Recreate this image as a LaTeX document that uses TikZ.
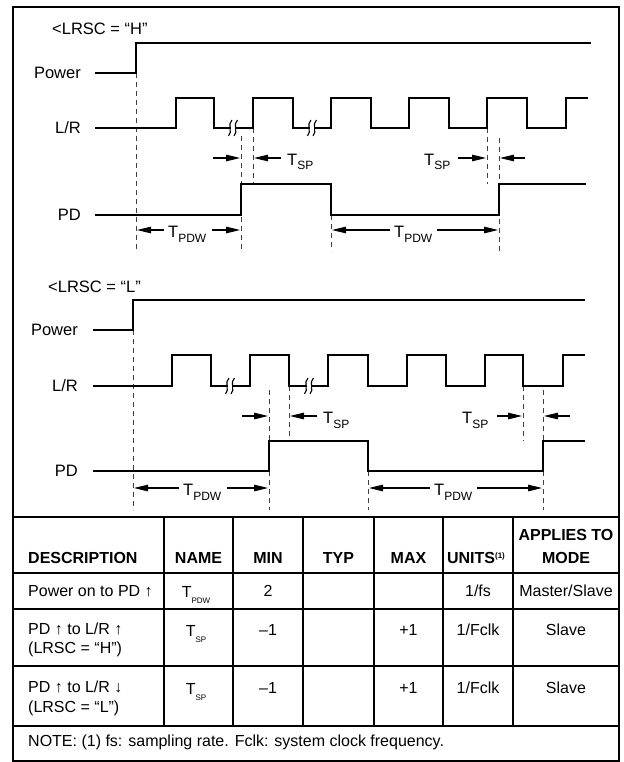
\documentclass[tikz,border=0pt]{standalone}
\usepackage{fontspec}
\setmainfont{Liberation Sans}
\usetikzlibrary{arrows.meta}
\newcommand{\Tsig}[1]{T\raisebox{-5pt}{\fontsize{12}{13}\selectfont #1}}
\newcommand{\Ttab}[1]{T\raisebox{-6pt}{\fontsize{8}{9}\selectfont #1}}
\begin{document}
\begin{tikzpicture}[x=1pt,y=-1pt,
  wave/.style={line width=2.4pt, line join=miter},
  guide/.style={line width=1pt, dash pattern=on 5pt off 4pt, black!75},
  dimarrow/.style={line width=1.2pt, -{Triangle[length=14pt,width=6.5pt]}},
  lbl/.style={font=\fontsize{16.5}{19}\selectfont, inner sep=0pt},
  tbl/.style={font=\fontsize{16}{19}\selectfont, inner sep=0pt},
  tblh/.style={font=\fontsize{16}{19}\selectfont\bfseries, inner sep=0pt},
  gridline/.style={line width=1.1pt},
  brk/.pic={
    \fill[white] (-2.5,-2) rectangle (2.5,2);
    \draw[line width=1.1pt] (-1,-8) .. controls (-6,-4) and (0,4) .. (-4.5,8);
    \draw[line width=1.1pt] (4.5,-8) .. controls (-0.5,-4) and (5.5,4) .. (1,8);
  }
]
\useasboundingbox (0,0) rectangle (623,762);
\fill[white] (0,0) rectangle (623,762);
\draw[line width=2.5pt] (13,7) rectangle (619,761);

% ---------------- LRSC = H ----------------
\node[lbl, anchor=west] (modeH) at (52,29) {<LRSC = “H”};
\node[lbl, anchor=east] (powH) at (81,73) {Power};
\node[lbl, anchor=east] (lrH) at (81,128) {L/R};
\node[lbl, anchor=east] (pdH) at (81,215) {PD};

\draw[guide] (136,73) -- (136,251);
\draw[guide] (241,136) -- (241,251);
\draw[guide] (253,128) -- (253,184);
\draw[guide] (331,215) -- (331,251);
\draw[guide] (487,128) -- (487,184);
\draw[guide] (499,138) -- (499,251);

\draw[wave] (95,73) -- (136,73) -- (136,43) -- (591,43);
\draw[wave] (95,128) -- (176,128) -- (176,98) -- (214,98) -- (214,128) -- (253,128) -- (253,98) -- (293,98) -- (293,128) -- (331,128) -- (331,98) -- (371,98) -- (371,128) -- (409,128) -- (409,98) -- (449,98) -- (449,128) -- (487,128) -- (487,98) -- (527,98) -- (527,128) -- (566,128) -- (566,98) -- (588,98);
\draw[wave] (95,215) -- (241,215) -- (241,184) -- (331,184) -- (331,215) -- (499,215) -- (499,184) -- (586,184);
\pic at (233,128) {brk};
\pic at (312,128) {brk};

\draw[dimarrow] (213,158) -- (240,158);
\draw[dimarrow] (281,158) -- (254,158);
\node[lbl, anchor=base west] (tspH1) at (287,165) {\Tsig{SP}};
\node[lbl, anchor=base west] (tspH2) at (424,165) {\Tsig{SP}};
\draw[dimarrow] (458,158) -- (486,158);
\draw[dimarrow] (525,158) -- (500,158);

\node[lbl, anchor=base west] (tpdwH1) at (168,237) {\Tsig{PDW}};
\draw[dimarrow] (164,230) -- (137,230);
\draw[dimarrow] (212,230) -- (240,230);
\node[lbl, anchor=base west] (tpdwH2) at (394,237) {\Tsig{PDW}};
\draw[dimarrow] (390,230) -- (332,230);
\draw[dimarrow] (437,230) -- (498,230);

% ---------------- LRSC = L ----------------
\node[lbl, anchor=west] (modeL) at (48,287) {<LRSC = “L”};
\node[lbl, anchor=east] (powL) at (78,330) {Power};
\node[lbl, anchor=east] (lrL) at (78,386) {L/R};
\node[lbl, anchor=east] (pdL) at (78,471) {PD};

\draw[guide] (133,330) -- (133,510);
\draw[guide] (269,390) -- (269,510);
\draw[guide] (289,386) -- (289,441);
\draw[guide] (368,471) -- (368,510);
\draw[guide] (523,386) -- (523,441);
\draw[guide] (543,390) -- (543,510);

\draw[wave] (93,330) -- (133,330) -- (133,300) -- (585,300);
\draw[wave] (93,386) -- (172,386) -- (172,355) -- (211,355) -- (211,386) -- (250,386) -- (250,355) -- (289,355) -- (289,386) -- (328,386) -- (328,355) -- (368,355) -- (368,386) -- (407,386) -- (407,355) -- (446,355) -- (446,386) -- (485,386) -- (485,355) -- (523,355) -- (523,386) -- (563,386) -- (563,355) -- (585,355);
\draw[wave] (93,471) -- (269,471) -- (269,441) -- (368,441) -- (368,471) -- (543,471) -- (543,441) -- (585,441);
\pic at (230,386) {brk};
\pic at (309,386) {brk};

\draw[dimarrow] (242,416) -- (268,416);
\draw[dimarrow] (317,416) -- (290,416);
\node[lbl, anchor=base west] (tspL1) at (323,423) {\Tsig{SP}};
\node[lbl, anchor=base west] (tspL2) at (462,423) {\Tsig{SP}};
\draw[dimarrow] (497,416) -- (522,416);
\draw[dimarrow] (570,416) -- (544,416);

\node[lbl, anchor=base west] (tpdwL1) at (183,495) {\Tsig{PDW}};
\draw[dimarrow] (179,488) -- (134,488);
\draw[dimarrow] (227,488) -- (268,488);
\node[lbl, anchor=base west] (tpdwL2) at (434,495) {\Tsig{PDW}};
\draw[dimarrow] (430,488) -- (369,488);
\draw[dimarrow] (477,488) -- (542,488);

% ---------------- table ----------------
\draw[line width=2.5pt] (13,517) -- (619,517);
\foreach \xx in {164,233,303,374,443,513} \draw[gridline] (\xx,517) -- (\xx,726);
\foreach \yy in {573,609,666} \draw[gridline] (13,\yy) -- (619,\yy);
\draw[line width=1.4pt] (13,726) -- (619,726);

\node[tblh, anchor=west] (hdesc) at (28,558) {DESCRIPTION};
\node[tblh] (hname) at (198.5,558) {NAME};
\node[tblh] (hmin) at (268,558) {MIN};
\node[tblh] (htyp) at (338.5,558) {TYP};
\node[tblh] (hmax) at (408.5,558) {MAX};
\node[tblh] (hunits) at (476,558) {UNITS\raisebox{5pt}{\fontsize{8}{9}\selectfont (1)}};
\node[tblh] (happ1) at (566,535) {APPLIES TO};
\node[tblh] (happ2) at (566,558) {MODE};

\node[tbl, anchor=west] (d1) at (28,591) {Power on to PD ↑};
\node[tbl, anchor=base] (n1) at (196,597) {\Ttab{PDW}};
\node[tbl] (min1) at (268,591) {2};
\node[tbl] (u1) at (478,591) {1/fs};
\node[tbl] (a1) at (566,591) {Master/Slave};

\node[tbl, anchor=west] (d2a) at (28,629) {PD ↑ to L/R ↑};
\node[tbl, anchor=west] (d2b) at (28,649) {(LRSC = “H”)};
\node[tbl, anchor=base] (n2) at (196,636) {\Ttab{SP}};
\node[tbl] (min2) at (268,630) {–1};
\node[tbl] (max2) at (408.5,630) {+1};
\node[tbl] (u2) at (478,630) {1/Fclk};
\node[tbl] (a2) at (566,630) {Slave};

\node[tbl, anchor=west] (d3a) at (28,687) {PD ↑ to L/R ↓};
\node[tbl, anchor=west] (d3b) at (28,708) {(LRSC = “L”)};
\node[tbl, anchor=base] (n3) at (196,694) {\Ttab{SP}};
\node[tbl] (min3) at (268,688) {–1};
\node[tbl] (max3) at (408.5,688) {+1};
\node[tbl] (u3) at (478,688) {1/Fclk};
\node[tbl] (a3) at (566,688) {Slave};

\node[tbl, anchor=west] (note) at (28,742) {NOTE: (1) fs: sampling rate. Fclk: system clock frequency.};
\end{tikzpicture}
\end{document}
